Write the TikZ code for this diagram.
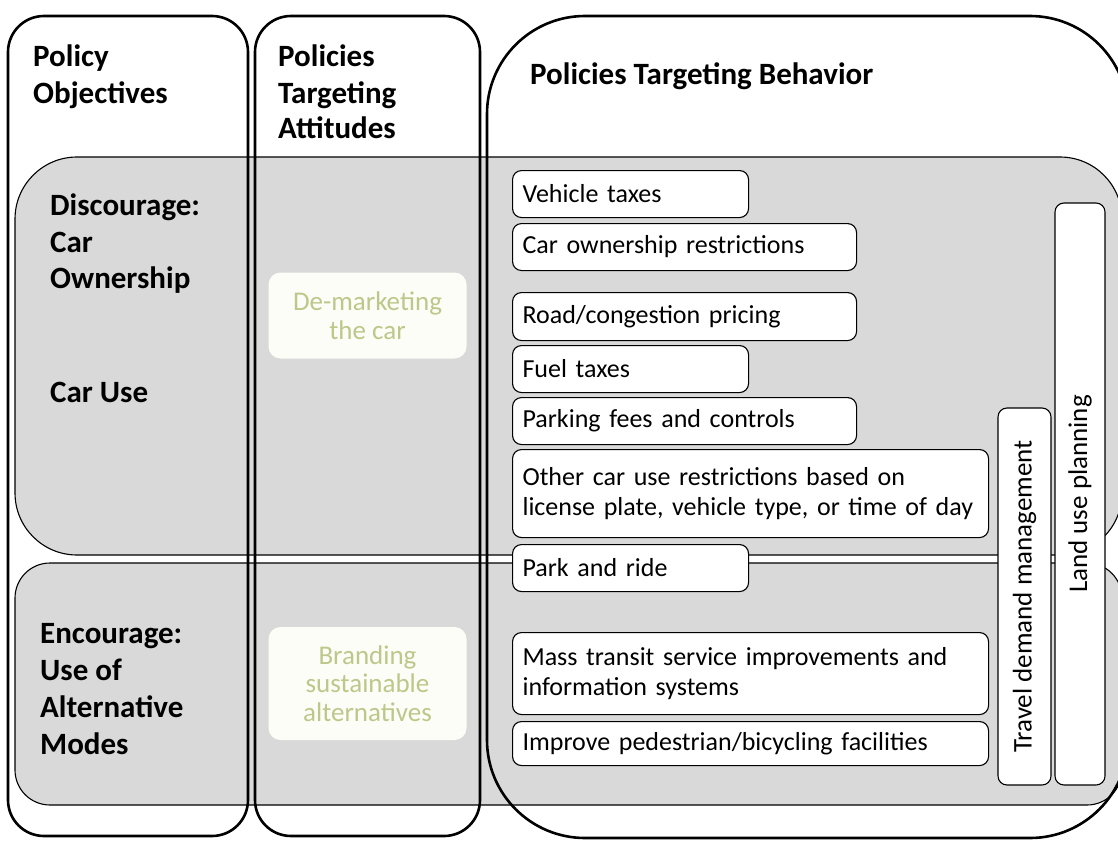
\documentclass[tikz,border=0pt]{standalone}
\usepackage{fontspec}
\setmainfont{Carlito}
\definecolor{bandgray}{RGB}{217,217,217}
\definecolor{attgreen}{RGB}{190,199,138}
\definecolor{attfill}{RGB}{252,253,246}
\begin{document}
\begin{tikzpicture}[x=1pt,y=-1pt,
  col/.style={draw=black, line width=2.6pt},
  band/.style={draw=black, line width=1.1pt, fill=bandgray},
  pbox/.style={draw=black, line width=1.1pt, fill=white, rounded corners=9pt, anchor=north west,
    inner xsep=10pt, inner ysep=0pt, align=left, font=\fontsize{26}{30}\selectfont},
  vbox/.style={draw=black, line width=1.1pt, fill=white, rounded corners=9pt, inner sep=0pt,
    rotate=90, font=\fontsize{27}{30}\selectfont},
  attbox/.style={fill=attfill, rounded corners=12pt, inner sep=0pt, align=center, text=attgreen,
    font=\fontsize{27}{28.5}\selectfont},
  head/.style={anchor=base west, inner sep=0pt, font=\fontsize{31}{36}\selectfont\bfseries}
]
\useasboundingbox (0,0) rectangle (1118,840);
\clip (0,0) rectangle (1118,840);

% horizontal bands
\draw[band, rounded corners=62pt] (15,157) rectangle (1122,555);
\draw[band, rounded corners=35pt] (15,563) rectangle (1122,805);

% attitude boxes
\node[attbox, minimum width=198pt, minimum height=86pt] (demk) at (367.5,315.5) {De-marketing\\the car};
\node[attbox, minimum width=198pt, minimum height=113pt] (brand) at (367.5,683.5) {Branding\\sustainable\\alternatives};

% behaviour boxes
\node[pbox, text width=216pt, minimum height=47pt] (vt) at (512,170) {Vehicle taxes};
\node[pbox, text width=324pt, minimum height=47pt] (cor) at (512,223) {Car ownership restrictions};
\node[pbox, text width=324pt, minimum height=48pt] (rcp) at (512,292) {Road/congestion pricing};
\node[pbox, text width=216pt, minimum height=47pt] (ft) at (512,345) {Fuel taxes};
\node[pbox, text width=324pt, minimum height=47pt] (pfc) at (512,397) {Parking fees and controls};
\node[pbox, text width=456pt, minimum height=88pt] (ocu) at (512,449) {\mbox{Other car use restrictions based on}\\\mbox{license plate, vehicle type, or time of day}};
\node[pbox, text width=216pt, minimum height=47pt] (pr) at (512,544) {Park and ride};
\node[pbox, text width=456pt, minimum height=82pt] (mt) at (512,632) {\mbox{Mass transit service improvements and}\\\mbox{information systems}};
\node[pbox, text width=456pt, minimum height=44pt] (ip) at (512,721) {\mbox{Improve pedestrian/bicycling facilities}};

% vertical boxes
\node[vbox, minimum width=377pt, minimum height=53pt] (tdm) at (1024.5,596.5) {Travel demand management};
\node[vbox, minimum width=582pt, minimum height=50pt] (lup) at (1080,494) {Land use planning};

% columns
\draw[col, rounded corners=36pt] (8,16) rectangle (248,836);
\draw[col, rounded corners=36pt] (255,16) rectangle (480,836);
\draw[col, rounded corners=98pt] (487,16) rectangle (1128,838);

% headings
\node[head] (po1) at (33,67) {Policy};
\node[head] (po2) at (33,103) {Objectives};
\node[head] (pa1) at (278,67) {Policies};
\node[head] (pa2) at (278,103) {Targeting};
\node[head] (pa3) at (278,139) {Attitudes};
\node[head] (pb) at (530,85) {Policies Targeting Behavior};

% objectives
\node[head] (d1) at (50,215) {Discourage:};
\node[head] (d2) at (50,252) {Car};
\node[head] (d3) at (50,288) {Ownership};
\node[head] (d4) at (50,402) {Car Use};
\node[head] (e1) at (40,643) {Encourage:};
\node[head] (e2) at (40,680) {Use of};
\node[head] (e3) at (40,717) {Alternative};
\node[head] (e4) at (40,754) {Modes};
\end{tikzpicture}
\end{document}
